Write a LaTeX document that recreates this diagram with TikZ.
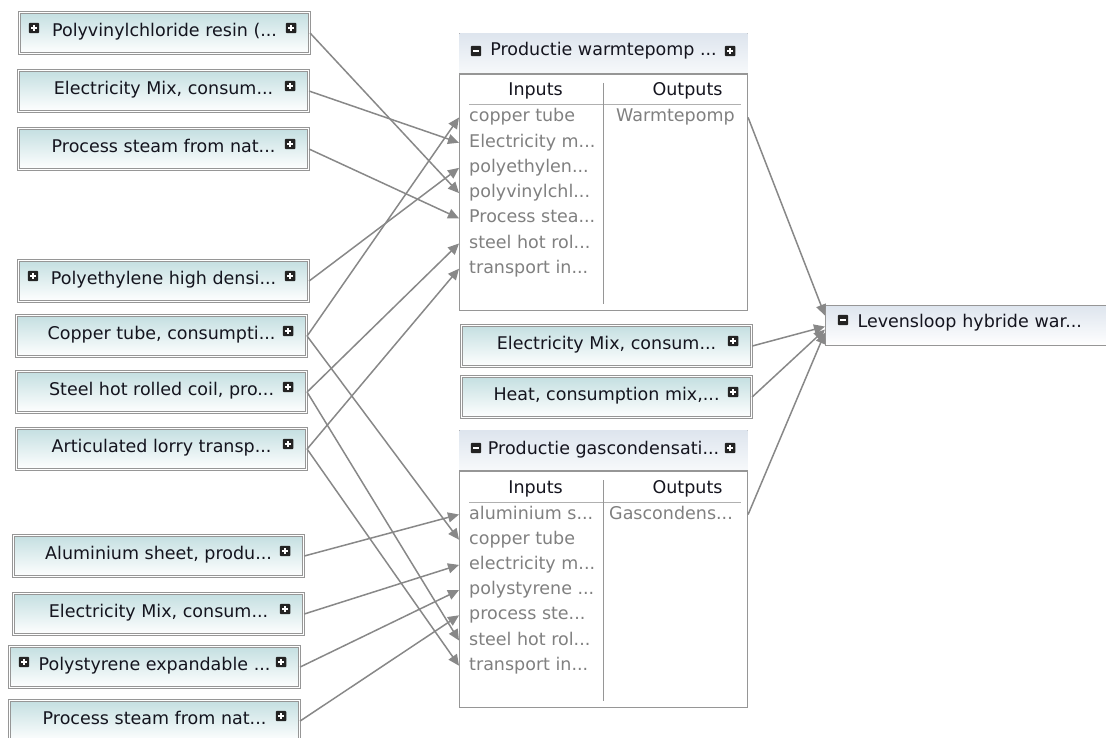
\documentclass[tikz,border=0pt]{standalone}
\usepackage{fontspec}
\setmainfont{DejaVu Sans}
\usetikzlibrary{arrows.meta,
                positioning}

\definecolor{boxgray}{RGB}{150,150,150}
\definecolor{linkgray}{RGB}{136,136,136}
\definecolor{tealtop}{RGB}{196,223,225}
\definecolor{tealmid}{RGB}{228,239,242}
\definecolor{hdrtop}{RGB}{222,229,238}
\definecolor{hdrbot}{RGB}{247,249,251}
\definecolor{itemgray}{RGB}{128,128,128}
\definecolor{labelink}{RGB}{20,20,30}
\definecolor{icondark}{RGB}{35,35,35}

\newcommand\lbl{\fontsize{17.5}{20}\selectfont}
% truncation dots (plain "..." confuses \foreach)
\newcommand\more{...}

\tikzset{
        srcbox/.style={draw=boxgray, line width=1.1pt, double=white,
                       double distance=1.4pt, top color=tealtop,
                       middle color=tealmid, bottom color=white,
                       anchor=north west, minimum width=290pt,
                       inner xsep=4pt, inner ysep=3pt, text height=21pt,
                       text depth=14pt, text=labelink, font=\lbl},
        procbox/.style={draw=boxgray, line width=1.1pt, fill=white,
                        anchor=north west, minimum width=288pt,
                        minimum height=277pt},
        endbox/.style={draw=boxgray, line width=1.1pt, top color=hdrtop,
                       bottom color=white, anchor=north west,
                       text width=290pt, align=left, inner xsep=32pt,
                       inner ysep=3pt, text height=19pt, text depth=15pt,
                       text=labelink, font=\lbl},
        title/.style={anchor=base, text=labelink, font=\lbl, inner sep=0pt},
        initem/.style={text=itemgray, font=\lbl, text height=13pt,
                       text depth=4pt, inner ysep=3.9pt, inner xsep=0pt},
        rule/.style={draw=boxgray!75, line width=1pt},
        flow/.style={draw=linkgray, line width=1.5pt,
                     -{Triangle[length=11pt,width=10pt]}},
        pics/plusicon/.style={code={
            \fill[icondark, rounded corners=1pt] (-5.2,-5.2) rectangle (5.2,5.2);
            \draw[white, line width=1.6pt] (-3,0) -- (3,0) (0,-3) -- (0,3);
        }},
        pics/minusicon/.style={code={
            \fill[icondark, rounded corners=1pt] (-5.2,-5.2) rectangle (5.2,5.2);
            \draw[white, line width=1.6pt] (-3,0) -- (3,0);
        }},
}

% expand buttons on the boxes
\newcommand\rplus[1]{\pic at ([xshift=-19pt,yshift=-16pt]#1.north east) {plusicon};}
\newcommand\lplus[1]{\pic at ([xshift=15pt,yshift=-16pt]#1.north west) {plusicon};}

\begin{document}
\begin{tikzpicture}[x=1pt, y=-1pt]
    \useasboundingbox (0,0) rectangle (1106,738);
    \clip (0,0) rectangle (1106,738);

    % supplier processes
    \node[srcbox] (pvc) at (19,12) {Polyvinylchloride resin (...};
    \node[srcbox] (elec1) at (18,70) {Electricity Mix, consum...};
    \node[srcbox] (steam1) at (18,128) {Process steam from nat...};
    \node[srcbox] (pe) at (18,260) {Polyethylene high densi...};
    \node[srcbox] (cu) at (16,315) {Copper tube, consumpti...};
    \node[srcbox] (steel) at (16,371) {Steel hot rolled coil, pro...};
    \node[srcbox] (lorry) at (16,428) {Articulated lorry transp...};
    \node[srcbox] (alu) at (13,535) {Aluminium sheet, produ...};
    \node[srcbox] (elec2) at (13,593) {Electricity Mix, consum...};
    \node[srcbox] (ps) at (9,646) {Polystyrene expandable ...};
    \node[srcbox] (steam2) at (9,700) {Process steam from nat...};

    \foreach \b in {pvc,elec1,steam1,pe,cu,steel,lorry,alu,elec2,ps,steam2}
        {\rplus{\b}}
    \lplus{pvc} \lplus{pe} \lplus{ps}

    % the two production units
    \node[procbox] (wp) at (459,33) {};
    \node[procbox] (gc) at (459,430) {};
    \foreach \p in {wp,gc}{
        \shade[top color=hdrtop, bottom color=hdrbot]
            ([xshift=.6pt,yshift=-.6pt]\p.north west)
            rectangle ([xshift=-.6pt,yshift=-41pt]\p.north east);
        \draw[draw=boxgray, line width=1.1pt]
            ([yshift=-41pt]\p.north west) -- ([yshift=-41pt]\p.north east);
        \draw[rule] ([xshift=10pt,yshift=-72pt]\p.north west)
            -- ([xshift=-7pt,yshift=-72pt]\p.north east);
        \draw[draw=boxgray, line width=1pt]
            ([yshift=-50pt]\p.north) -- ([yshift=7pt]\p.south);
        \pic at ([xshift=17pt,yshift=-18pt]\p.north west) {minusicon};
        \pic at ([xshift=-18pt,yshift=-18pt]\p.north east) {plusicon};
        \node[title] at ([xshift=-68pt,yshift=-63pt]\p.north) {Inputs};
        \node[title] at ([xshift=84pt,yshift=-63pt]\p.north) {Outputs};
    }
    \node[title] (wpt) at ([yshift=-23pt]wp.north) {Productie warmtepomp ...};
    \node[title] (gct) at ([yshift=-24pt]gc.north) {Productie gascondensati...};

    % input and output lists
    \node[initem, anchor=base west] (wpi1) at (469,122) {copper tube};
    \foreach \txt [count=\i from 2] in {Electricity m\more, polyethylen\more,
            polyvinylchl\more, Process stea\more, steel hot rol\more, transport in\more}{
        \pgfmathtruncatemacro\j{\i-1}
        \node[initem, below=0pt of wpi\j.south west, anchor=north west] (wpi\i) {\txt};
    }
    \node[initem, anchor=base west] (wpo) at (616,122) {Warmtepomp};

    \node[initem, anchor=base west] (gci1) at (469,519) {aluminium s...};
    \foreach \txt [count=\i from 2] in {copper tube, electricity m\more,
            polystyrene \more, process ste\more, steel hot rol\more, transport in\more}{
        \pgfmathtruncatemacro\j{\i-1}
        \node[initem, below=0pt of gci\j.south west, anchor=north west] (gci\i) {\txt};
    }
    \node[initem, anchor=base west] (gco) at (609,519) {Gascondens...};

    % direct inputs of the life cycle
    \node[srcbox] (emid) at (461,325) {Electricity Mix, consum...};
    \node[srcbox] (heat) at (461,376) {Heat, consumption mix,...};
    \rplus{emid} \rplus{heat}

    \node[endbox] (lev) at (825,305) {Levensloop hybride war...};
    \pic at ([xshift=18pt,yshift=-15pt]lev.north west) {minusicon};

    % flows into the heat pump
    \draw[flow] (pvc.east) -- (wp.west |- wpi4);
    \draw[flow] (elec1.east) -- (wp.west |- wpi2);
    \draw[flow] (steam1.east) -- (wp.west |- wpi5);
    \draw[flow] (pe.east) -- (wp.west |- wpi3);
    \draw[flow] (cu.east) -- (wp.west |- wpi1);
    \draw[flow] (steel.east) -- (wp.west |- wpi6);
    \draw[flow] (lorry.east) -- (wp.west |- wpi7);

    % flows into the gas boiler
    \draw[flow] (cu.east) -- (gc.west |- gci2);
    \draw[flow] (steel.east) -- (gc.west |- gci6);
    \draw[flow] (lorry.east) -- (gc.west |- gci7);
    \draw[flow] (alu.east) -- (gc.west |- gci1);
    \draw[flow] (elec2.east) -- (gc.west |- gci3);
    \draw[flow] (ps.east) -- (gc.west |- gci4);
    \draw[flow] (steam2.east) -- (gc.west |- gci5);

    % everything ends in the life cycle
    \draw[flow] (wp.east |- wpo) -- ([yshift=10pt]lev.west);
    \draw[flow] (emid.east) -- ([yshift=-1pt]lev.west);
    \draw[flow] (heat.east) -- ([yshift=-4pt]lev.west);
    \draw[flow] (gc.east |- gco) -- ([yshift=-7pt]lev.west);
\end{tikzpicture}
\end{document}
